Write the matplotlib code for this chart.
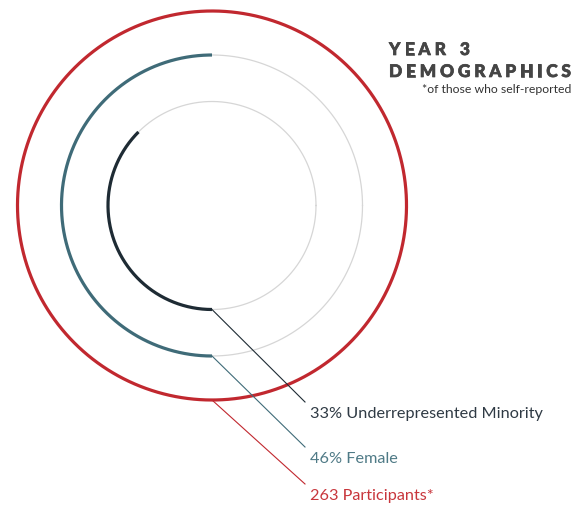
import matplotlib
matplotlib.use("Agg")
import matplotlib.pyplot as plt
import matplotlib.patheffects as pe
import numpy as np

# ---- data ----
labels = ["33% Underrepresented Minority", "46% Female", "263 Participants*"]
arc_fraction = [0.375, 0.5, 1.0]          # drawn share of each ring
ring_colors = ["#1e2b34", "#3f6b78", "#c1282f"]
text_colors = ["#2f3a44", "#4f7a86", "#c8363c"]
title_lines = ["YEAR 3", "DEMOGRAPHICS"]
subtitle = "*of those who self-reported"

# ---- layout (pixel units) ----
W, H = 585, 506
cx, cy = 212, 206.5
radii = [104, 150.5, 194.5]
label_x = 310
label_base = [418, 463, 500]

fig = plt.figure(figsize=(W / 100, H / 100), dpi=100)
ax = fig.add_axes([0, 0, 1, 1])
ax.set_xlim(0, W)
ax.set_ylim(H, 0)
ax.set_aspect("equal")
ax.axis("off")

full = np.linspace(0, 2 * np.pi, 720)
for i, r in enumerate(radii):
    if arc_fraction[i] < 1:
        ax.plot(cx + r * np.cos(full), cy + r * np.sin(full), color="#d6d6d6", lw=0.9, zorder=1)
    phi = np.linspace(0, 2 * np.pi * arc_fraction[i], 600)
    ax.plot(cx - r * np.sin(phi), cy + r * np.cos(phi), color=ring_colors[i], lw=2.3,
            solid_capstyle="butt", zorder=2)
    by = cy + r
    ey = label_base[i] - 15
    ax.plot([cx, label_x - 5], [by, ey], color=ring_colors[i], lw=0.8, zorder=3)
    ax.text(label_x, label_base[i], labels[i], color=text_colors[i], fontsize=11.7,
            family="Lato", va="baseline", ha="left")

# title with letter spacing
fig.canvas.draw()
renderer = fig.canvas.get_renderer()
title_x0 = 389
title_right = [470, 571]
title_base = [56, 78]
tfs = 12.5
heavy = [pe.withStroke(linewidth=0.5, foreground="#454545")]
for line, xr, yb in zip(title_lines, title_right, title_base):
    widths = []
    for ch in line:
        t = ax.text(0, 0, ch if ch != " " else "n", fontsize=tfs, family="Lato", weight="black")
        bb = t.get_window_extent(renderer)
        widths.append(bb.width if ch != " " else bb.width * 0.6)
        t.remove()
    total = sum(widths)
    track = (xr - title_x0 - total) / (len(line) - 1)
    x = title_x0
    for ch, w in zip(line, widths):
        if ch != " ":
            ax.text(x, yb, ch, fontsize=tfs, family="Lato", weight="black",
                    color="#454545", va="baseline", ha="left", path_effects=heavy)
        x += w + track

ax.text(571, 93, subtitle, fontsize=8.8, family="Lato", color="#333333",
        va="baseline", ha="right")

fig.savefig("out.png", dpi=100)
